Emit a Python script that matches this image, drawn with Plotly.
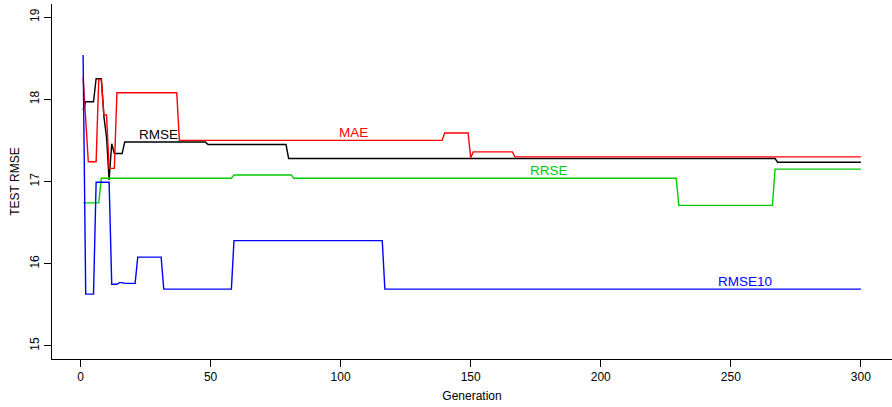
import plotly.graph_objects as go

# Breakpoints of each series (generation, test RMSE)
rmse_gen = [1, 2, 5, 6, 8, 9, 10, 11, 12, 13, 16, 17, 48, 49, 79, 80, 267, 268, 300]
rmse_val = [17.87, 17.97, 17.97, 18.25, 18.25, 17.79, 17.54, 17.02, 17.46, 17.34, 17.34, 17.48, 17.48, 17.45, 17.45, 17.28, 17.28, 17.235, 17.235]

mae_gen = [1, 3, 6, 7, 8, 9, 10, 11, 13, 14, 37, 38, 139, 140, 149, 150, 151, 166, 167, 300]
mae_val = [18.27, 17.24, 17.24, 18.24, 18.24, 17.81, 17.81, 17.16, 17.16, 18.08, 18.08, 17.50, 17.50, 17.59, 17.59, 17.29, 17.36, 17.36, 17.30, 17.30]

rrse_gen = [1, 7, 8, 58, 59, 81, 82, 229, 230, 266, 267, 300]
rrse_val = [16.74, 16.74, 17.04, 17.04, 17.08, 17.08, 17.04, 17.04, 16.71, 16.71, 17.15, 17.15]

rmse10_gen = [1, 2, 5, 6, 11, 12, 14, 15, 16, 17, 21, 22, 31, 32, 58, 59, 116, 117, 300]
rmse10_val = [18.54, 15.63, 15.63, 16.99, 16.99, 15.75, 15.75, 15.77, 15.77, 15.76, 15.76, 16.08, 16.08, 15.69, 15.69, 16.28, 16.28, 15.69, 15.69]

labels = ["RMSE", "MAE", "RRSE", "RMSE10"]
label_gen = [30, 105, 180, 255.5]
label_val = [17.575, 17.596, 17.136, 15.78]

x_ticks = [0, 50, 100, 150, 200, 250, 300]
y_ticks = [15, 16, 17, 18, 19]

colors = ["#000000", "#FF0000", "#00CD00", "#0000FF"]
FONT = "Liberation Sans, Arial, Helvetica, sans-serif"

fig = go.Figure()
series = [(rmse_gen, rmse_val), (mae_gen, mae_val), (rrse_gen, rrse_val), (rmse10_gen, rmse10_val)]
for (gx, gy), name, c in zip(series, labels, colors):
    fig.add_trace(go.Scatter(x=gx, y=gy, mode="lines", name=name,
                             line=dict(color=c, width=1.4), showlegend=False,
                             hoverinfo="skip"))

for t, gx, gy, c in zip(labels, label_gen, label_val, colors):
    fig.add_annotation(x=gx, y=gy, text=t, showarrow=False,
                       font=dict(family=FONT, size=13.5, color=c),
                       xanchor="center", yanchor="middle")

fig.update_layout(
    width=892, height=407,
    margin=dict(l=51.5, r=0, t=4, b=48),
    plot_bgcolor="white", paper_bgcolor="white",
    font=dict(family=FONT, size=12, color="black"),
    xaxis=dict(range=[-10.96, 311.96], tickvals=x_ticks, ticktext=[str(v) for v in x_ticks],
               showgrid=False, zeroline=False, showline=True, linecolor="black", linewidth=1,
               ticks="outside", ticklen=7, tickcolor="black", tickwidth=1,
               tickfont=dict(family=FONT, size=12, color="black"),
               title=dict(text="Generation", font=dict(family=FONT, size=12, color="black"), standoff=8)),
    yaxis=dict(range=[14.84, 19.16], tickvals=y_ticks, ticktext=[str(v) for v in y_ticks],
               showgrid=False, zeroline=False, showline=True, linecolor="black", linewidth=1,
               ticks="outside", ticklen=7, tickcolor="black", tickwidth=1, tickangle=-90,
               tickfont=dict(family=FONT, size=12, color="black"),
               title=dict(text="TEST RMSE", font=dict(family=FONT, size=12, color="black"), standoff=6)),
)

fig.write_html("out.html")
